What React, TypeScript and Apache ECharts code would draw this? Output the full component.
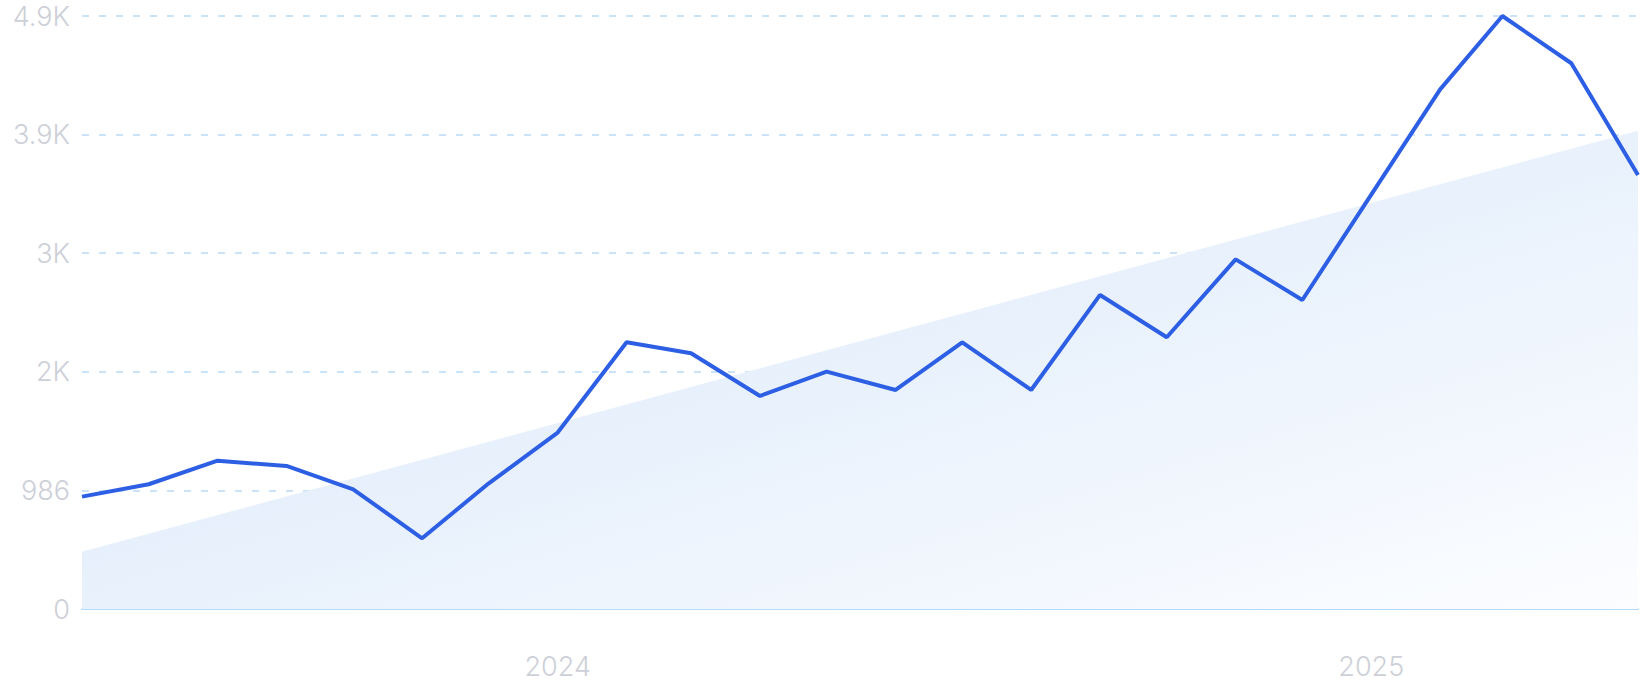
import { useEffect, useRef } from 'react'
import * as echarts from 'echarts'

// monthly points, first of month
const months = [
  '2023-06-01', '2023-07-01', '2023-08-01', '2023-09-01', '2023-10-01', '2023-11-01',
  '2023-12-01', '2024-01-01', '2024-02-01', '2024-03-01', '2024-04-01', '2024-05-01',
  '2024-06-01', '2024-07-01', '2024-08-01', '2024-09-01', '2024-10-01', '2024-11-01',
  '2024-12-01', '2025-01-01', '2025-02-01', '2025-03-01', '2025-04-01', '2025-05-01'
]
const values = [
  934, 1037, 1233, 1189, 995, 588,
  1045, 1467, 2217, 2126, 1771, 1973,
  1821, 2217, 1821, 2611, 2259, 2907,
  2569, 3445, 4320, 4930, 4537, 3608
]
// trend line: value at first and last month
const trendValues = [476, 3977]
const yTicks = [0, 986, 1972, 2958, 3944, 4930]

const fmtY = (v: number) => (v >= 1000 ? parseFloat((v / 1000).toFixed(1)) + 'K' : String(v))

const App = () => {
  const chartRef = useRef<HTMLDivElement>(null)

  useEffect(() => {
    document.body.style.margin = '0'
    if (!chartRef.current) return
    const chart = echarts.init(chartRef.current, undefined, { renderer: 'svg' })

    const font = 'Inter, "Noto Sans", sans-serif'
    chart.setOption({
      animation: false,
      grid: { left: 82, right: 5, top: 16, bottom: 91 },
      xAxis: {
        type: 'time',
        min: months[0],
        max: months[months.length - 1],
        axisLine: { show: true, lineStyle: { color: '#b3dbfb', width: 2 } },
        axisTick: { show: false },
        splitLine: { show: false },
        axisLabel: {
          margin: 44,
          fontSize: 27,
          fontWeight: 300,
          fontFamily: font,
          color: '#cdd0d8',
          showMinLabel: false,
          showMaxLabel: false,
          formatter: (val: number) => {
            const d = new Date(val)
            return d.getMonth() === 0 && d.getDate() === 1 ? String(d.getFullYear()) : ''
          }
        }
      },
      yAxis: {
        type: 'value',
        min: yTicks[0],
        max: yTicks[yTicks.length - 1],
        interval: yTicks[1] - yTicks[0],
        axisLine: { show: false },
        axisTick: { show: false },
        axisLabel: {
          margin: 12,
          fontSize: 27,
          fontWeight: 300,
          fontFamily: font,
          color: '#cdd0d8',
          formatter: fmtY
        },
        splitLine: {
          lineStyle: { color: '#cbe3f8', type: [7, 10], width: 2 }
        }
      },
      series: [
        {
          type: 'line',
          data: [
            [months[0], trendValues[0]],
            [months[months.length - 1], trendValues[1]]
          ],
          showSymbol: false,
          silent: true,
          z: 1,
          lineStyle: { width: 0, opacity: 0 },
          areaStyle: {
            opacity: 1,
            color: new echarts.graphic.LinearGradient(0, 0, 1, 1, [
              { offset: 0, color: '#dae9fa' },
              { offset: 0.5, color: '#e8f1fc' },
              { offset: 1, color: '#fcfdff' }
            ])
          }
        },
        {
          type: 'line',
          data: months.map((m, i) => [m, values[i]]),
          showSymbol: false,
          z: 3,
          lineStyle: { color: '#2d5fe4', width: 4 }
        }
      ]
    })

    const resize = () => chart.resize()
    window.addEventListener('resize', resize)
    return () => {
      window.removeEventListener('resize', resize)
      chart.dispose()
    }
  }, [])

  return <div ref={chartRef} style={{ width: 1643, height: 700 }} />
}

export default App
